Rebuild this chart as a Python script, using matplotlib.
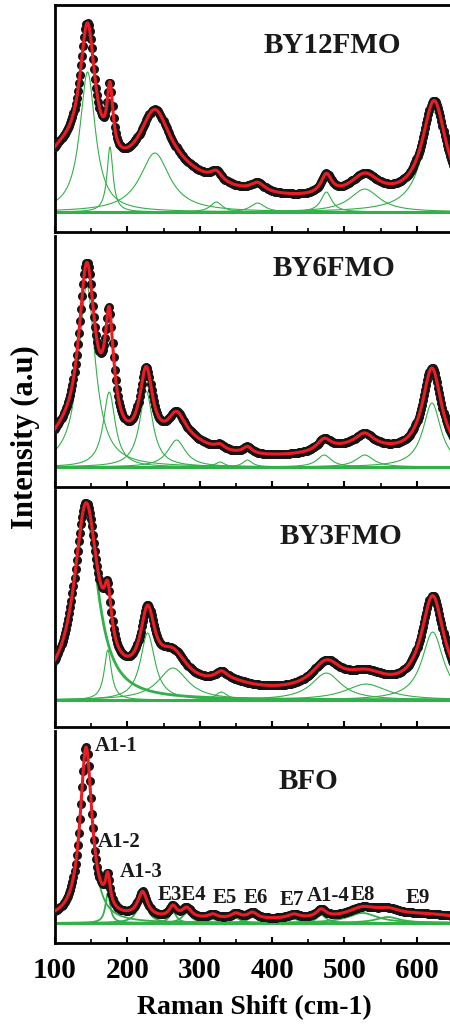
import numpy as np
import matplotlib.pyplot as plt

plt.rcParams['font.family'] = 'Liberation Serif'
plt.rcParams['font.weight'] = 'bold'

# Lorentzian components: centre (cm-1), half width, height
by12_pos = [145, 176, 238, 323, 380, 475, 528, 624]
by12_hw = [13, 5, 25, 10, 12, 9, 25, 20]
by12_amp = [140, 65, 59, 10, 9, 20, 23, 100]
# extra terms in the fit that are not drawn as components
by12_bg_pos = [110, 250]
by12_bg_hw = [45, 80]
by12_bg_amp = [40, 28]
by12_offset = 8

by6_pos = [144, 175, 226, 268, 328, 366, 472, 528, 621]
by6_hw = [14, 10, 11, 15, 8, 8, 12, 15, 15]
by6_amp = [182, 75, 76, 27, 5, 7, 12, 12, 64]
by6_bg_pos = [110, 175, 280, 520, 621]
by6_bg_hw = [25, 5, 45, 60, 20]
by6_bg_amp = [14, 40, 14, 12, 25]
by6_offset = 6

by3_pos = [143, 173, 228, 263, 330, 475, 530, 622]
by3_hw = [20, 6, 12, 25, 10, 25, 35, 18]
by3_amp = [187, 50, 67, 32, 8, 27, 16, 68]
by3_bg_pos = [340, 622]
by3_bg_hw = [40, 22]
by3_bg_amp = [8, 28]
by3_offset = 5

bfo_pos = [143, 173, 221, 263, 282, 318, 350, 373, 430, 468, 525, 560]
bfo_hw = [10, 4, 8, 6, 8, 8, 8, 8, 10, 8, 25, 20]
bfo_amp = [172, 30, 25, 11, 10, 4, 5, 6, 4, 8, 10, 6]
bfo_bg_pos = [610]
bfo_bg_hw = [60]
bfo_bg_amp = [5]
bfo_offset = 3

titles = ['BY12FMO', 'BY6FMO', 'BY3FMO', 'BFO']
title_x = [483, 485, 495, 450]
title_y = [167, 199, 164, 142]

mode_labels = ['A1-1', 'A1-2', 'A1-3', 'E3E4', 'E5', 'E6', 'E7', 'A1-4', 'E8', 'E9']
mode_x = [155, 159, 190, 242, 318, 360, 411, 448, 508, 584]
mode_y = [177, 81, 51, 28, 25, 25, 23, 27, 28, 25]


def lor(x, c, w, a):
    return a / (1 + ((x - c) / w) ** 2)


green = '#34b04a'
red = '#ec1c24'

fig = plt.figure(figsize=(4.5, 10.24), dpi=100)
rects = [[0.1222, 0.7734, 0.8844, 0.2217],
         [0.1222, 0.5244, 0.8844, 0.2451],
         [0.1222, 0.2900, 0.8844, 0.2314],
         [0.1222, 0.0791, 0.8844, 0.2070]]
ylims = [(-20, 207), (-20, 231), (-27, 210), (-20, 192)]

sets = [(by12_pos, by12_hw, by12_amp, by12_bg_pos, by12_bg_hw, by12_bg_amp, by12_offset),
        (by6_pos, by6_hw, by6_amp, by6_bg_pos, by6_bg_hw, by6_bg_amp, by6_offset),
        (by3_pos, by3_hw, by3_amp, by3_bg_pos, by3_bg_hw, by3_bg_amp, by3_offset),
        (bfo_pos, bfo_hw, bfo_amp, bfo_bg_pos, bfo_bg_hw, bfo_bg_amp, bfo_offset)]

x = np.linspace(100, 650, 1101)
xd = np.arange(100, 651, 1.5)

for i, (pos, hw, amp, bpos, bhw, bamp, off) in enumerate(sets):
    ax = fig.add_axes(rects[i])
    fit = np.full_like(x, float(off))
    fitd = np.full_like(xd, float(off))
    for c, w, a in zip(list(pos) + list(bpos), list(hw) + list(bhw), list(amp) + list(bamp)):
        fit += lor(x, c, w, a)
        fitd += lor(xd, c, w, a)

    ax.axhline(0, color=green, lw=2.2, zorder=1)
    for j, (c, w, a) in enumerate(zip(pos, hw, amp)):
        lw = 2 if (i == 2 and j == 0) else (1.3 if i == 3 else 0.8)
        ax.plot(x, lor(x, c, w, a), color=green, lw=lw, zorder=2)
    ax.plot(xd, fitd, 'o', color='#151515', ms=6.5, mew=0, zorder=3)
    ax.plot(x, fit, color=red, lw=2.2, zorder=4)

    ax.text(title_x[i], title_y[i], titles[i], ha='center', va='center',
            fontsize=21, fontweight='bold', color='#1a1a1a')

    ax.set_xlim(100, 650)
    ax.set_ylim(*ylims[i])
    ax.set_yticks([])
    ax.set_xticks(np.arange(100, 601, 100))
    ax.set_xticks(np.arange(150, 651, 100), minor=True)
    ax.tick_params(axis='x', which='major', direction='in', length=4, width=1.5)
    ax.tick_params(axis='x', which='minor', direction='in', length=3, width=1.2)
    for s in ax.spines.values():
        s.set_linewidth(2)
    if i > 0:
        ax.spines['top'].set_visible(False)
    if i < 3:
        ax.tick_params(axis='x', labelbottom=False)
    else:
        ax.tick_params(axis='x', labelsize=21, pad=10)
        for lab, lx, ly in zip(mode_labels, mode_x, mode_y):
            ax.text(lx, ly, lab, ha='left', va='center', fontsize=15,
                    fontweight='bold', color='#1a1a1a')
        ax.set_xlabel('Raman Shift (cm-1)', fontsize=20, fontweight='bold', labelpad=8)

fig.text(0.056, 0.573, 'Intensity (a.u)', rotation=90, ha='center', va='center',
         fontsize=22, fontweight='bold')

fig.savefig('out.png', dpi=100)
